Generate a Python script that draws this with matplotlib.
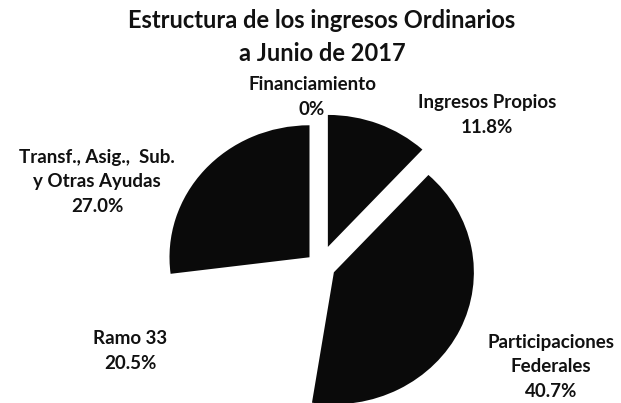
import matplotlib.pyplot as plt

# Estructura de los ingresos ordinarios (porcentajes)
categorias = ['Financiamiento', 'Ingresos Propios', 'Participaciones\nFederales',
              'Ramo 33', 'Transf., Asig.,  Sub.\ny Otras Ayudas']
valores = [0.0, 11.8, 40.7, 20.5, 27.0]
pct_txt = ['0%', '11.8%', '40.7%', '20.5%', '27.0%']
colores = ['#111111', '#0a0a0a', '#0a0a0a', '#ffffff', '#0a0a0a']
explode = [0, 0.155, 0.11, 0, 0.10]

# label block centres in pixels of the original picture
pos_lbl = [(312, 97), (487, 115), (551, 367), (130, 351), (97, 182)]

W, H = 621, 403
cx, cy = 320, 266
rx, ry = 140, 132   # the scan is a little wider than tall

fig = plt.figure(figsize=(W / 100, H / 100), dpi=100)
ax = fig.add_axes([0, 0, 1, 1])
ax.pie(valores, colors=colores, explode=explode, startangle=90,
       counterclock=False, radius=1, wedgeprops=dict(linewidth=0))
ax.set_xlim(-cx / rx, (W - cx) / rx)
ax.set_ylim((cy - H) / ry, cy / ry)
ax.set_aspect('auto')
ax.axis('off')

def d(px, py):
    return (px - cx) / rx, (cy - py) / ry

fuente = 'Lato'
for nombre, pct, (px, py) in zip(categorias, pct_txt, pos_lbl):
    txt = nombre + '\n' + pct
    x, y = d(px, py)
    ax.text(x, y, txt, ha='center', va='center', fontsize=13.5, fontweight='bold',
            family=fuente, linespacing=1.55, color='#111111')

fig.text(322 / W, 1 - 37 / H, 'Estructura de los ingresos Ordinarios\na Junio de 2017',
         ha='center', va='center', fontsize=17, fontweight='bold', family=fuente,
         linespacing=1.5, color='#111111')

fig.savefig('out.png', dpi=100)
